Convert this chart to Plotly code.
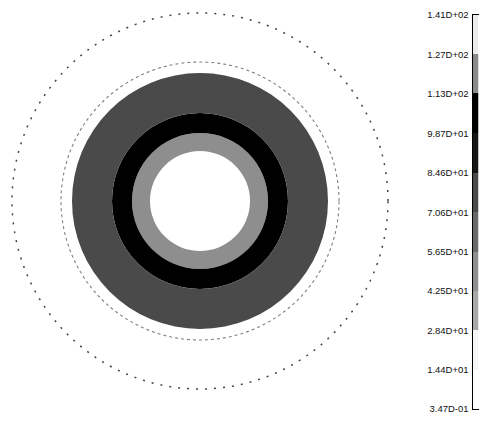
import plotly.graph_objects as go
import numpy as np

# ---- data ----
band_ticks = [0.347, 14.4, 28.4, 42.5, 56.5, 70.6, 84.6, 98.7, 113, 127, 141]
band_labels = ["3.47D-01", "1.44D+01", "2.84D+01", "4.25D+01", "5.65D+01",
               "7.06D+01", "8.46D+01", "9.87D+01", "1.13D+02", "1.27D+02", "1.41D+02"]
band_colors = ["#ffffff", "#f6f6f6", "#a8a8a8", "#8e8e8e", "#6a6a6a",
               "#4a4a4a", "#151515", "#000000", "#8a8a8a", "#ececec"]

ring_inner = [50, 68, 88]
ring_outer = [68, 88, 128]
ring_value = [50, 105, 78]

contour_radii = [139, 188]

# ---- helpers ----
vmin, vmax = band_ticks[0], band_ticks[-1]
nb = len(band_colors)
colorscale = []
for i, c in enumerate(band_colors):
    colorscale.append([i / nb, c])
    colorscale.append([(i + 1) / nb, c])

fig = go.Figure()

fig.add_trace(go.Barpolar(
    r=[o - i for i, o in zip(ring_inner, ring_outer)],
    base=ring_inner,
    theta=[0] * len(ring_inner),
    width=[360] * len(ring_inner),
    marker=dict(color=ring_value, colorscale=colorscale, cmin=vmin, cmax=vmax,
                line=dict(width=0)),
    showlegend=False, hoverinfo="skip",
))

theta_c = np.arange(0, 361, 1)
fig.add_trace(go.Scatterpolar(
    r=[contour_radii[0]] * len(theta_c), theta=theta_c, mode="lines",
    line=dict(color="#808080", width=1.1, dash="dot"),
    showlegend=False, hoverinfo="skip"))
fig.add_trace(go.Scatterpolar(
    r=[contour_radii[1]] * len(theta_c), theta=theta_c, mode="lines",
    line=dict(color="#444444", width=1.5, dash="2px,7px"),
    showlegend=False, hoverinfo="skip"))

# colour bar as a one-column heatmap
mids = [(band_ticks[i] + band_ticks[i + 1]) / 2 for i in range(nb)]
fig.add_trace(go.Heatmap(
    z=[[m] for m in mids], x=[0, 1], y=band_ticks,
    colorscale=colorscale, zmin=vmin, zmax=vmax, showscale=False,
    hoverinfo="skip", xaxis="x", yaxis="y"))

# page body has an 8px margin: keep the page inside the window
W, H = 471, 407
R = 190  # polar radius in px (1 data unit = 1 px)
cx, cy = 192, 193  # centre in figure px (from top-left)
fig.update_layout(
    width=W, height=H, autosize=False,
    margin=dict(l=0, r=0, t=0, b=0, autoexpand=False),
    paper_bgcolor="white", plot_bgcolor="white",
    polar=dict(
        domain=dict(x=[(cx - R) / W, (cx + R) / W],
                    y=[(H - cy - R) / H, (H - cy + R) / H]),
        bgcolor="white",
        radialaxis=dict(visible=False, range=[0, R]),
        angularaxis=dict(visible=False),
    ),
    xaxis=dict(domain=[464.5 / W, 470.5 / W], range=[0, 1], showticklabels=False,
               showgrid=False, zeroline=False, showline=True, mirror=True,
               linecolor="black", linewidth=1, ticks="", automargin=False),
    yaxis=dict(domain=[6 / H, 400 / H], range=[vmin, vmax],
               tickvals=band_ticks, ticktext=band_labels, side="left",
               ticks="", showgrid=False, zeroline=False, showline=True,
               mirror=True, linecolor="black", linewidth=1,
               ticklabelstandoff=1, automargin=False,
               tickfont=dict(family="Liberation Sans", size=9.5, color="#111111")),
)

fig.write_html("out.html")
